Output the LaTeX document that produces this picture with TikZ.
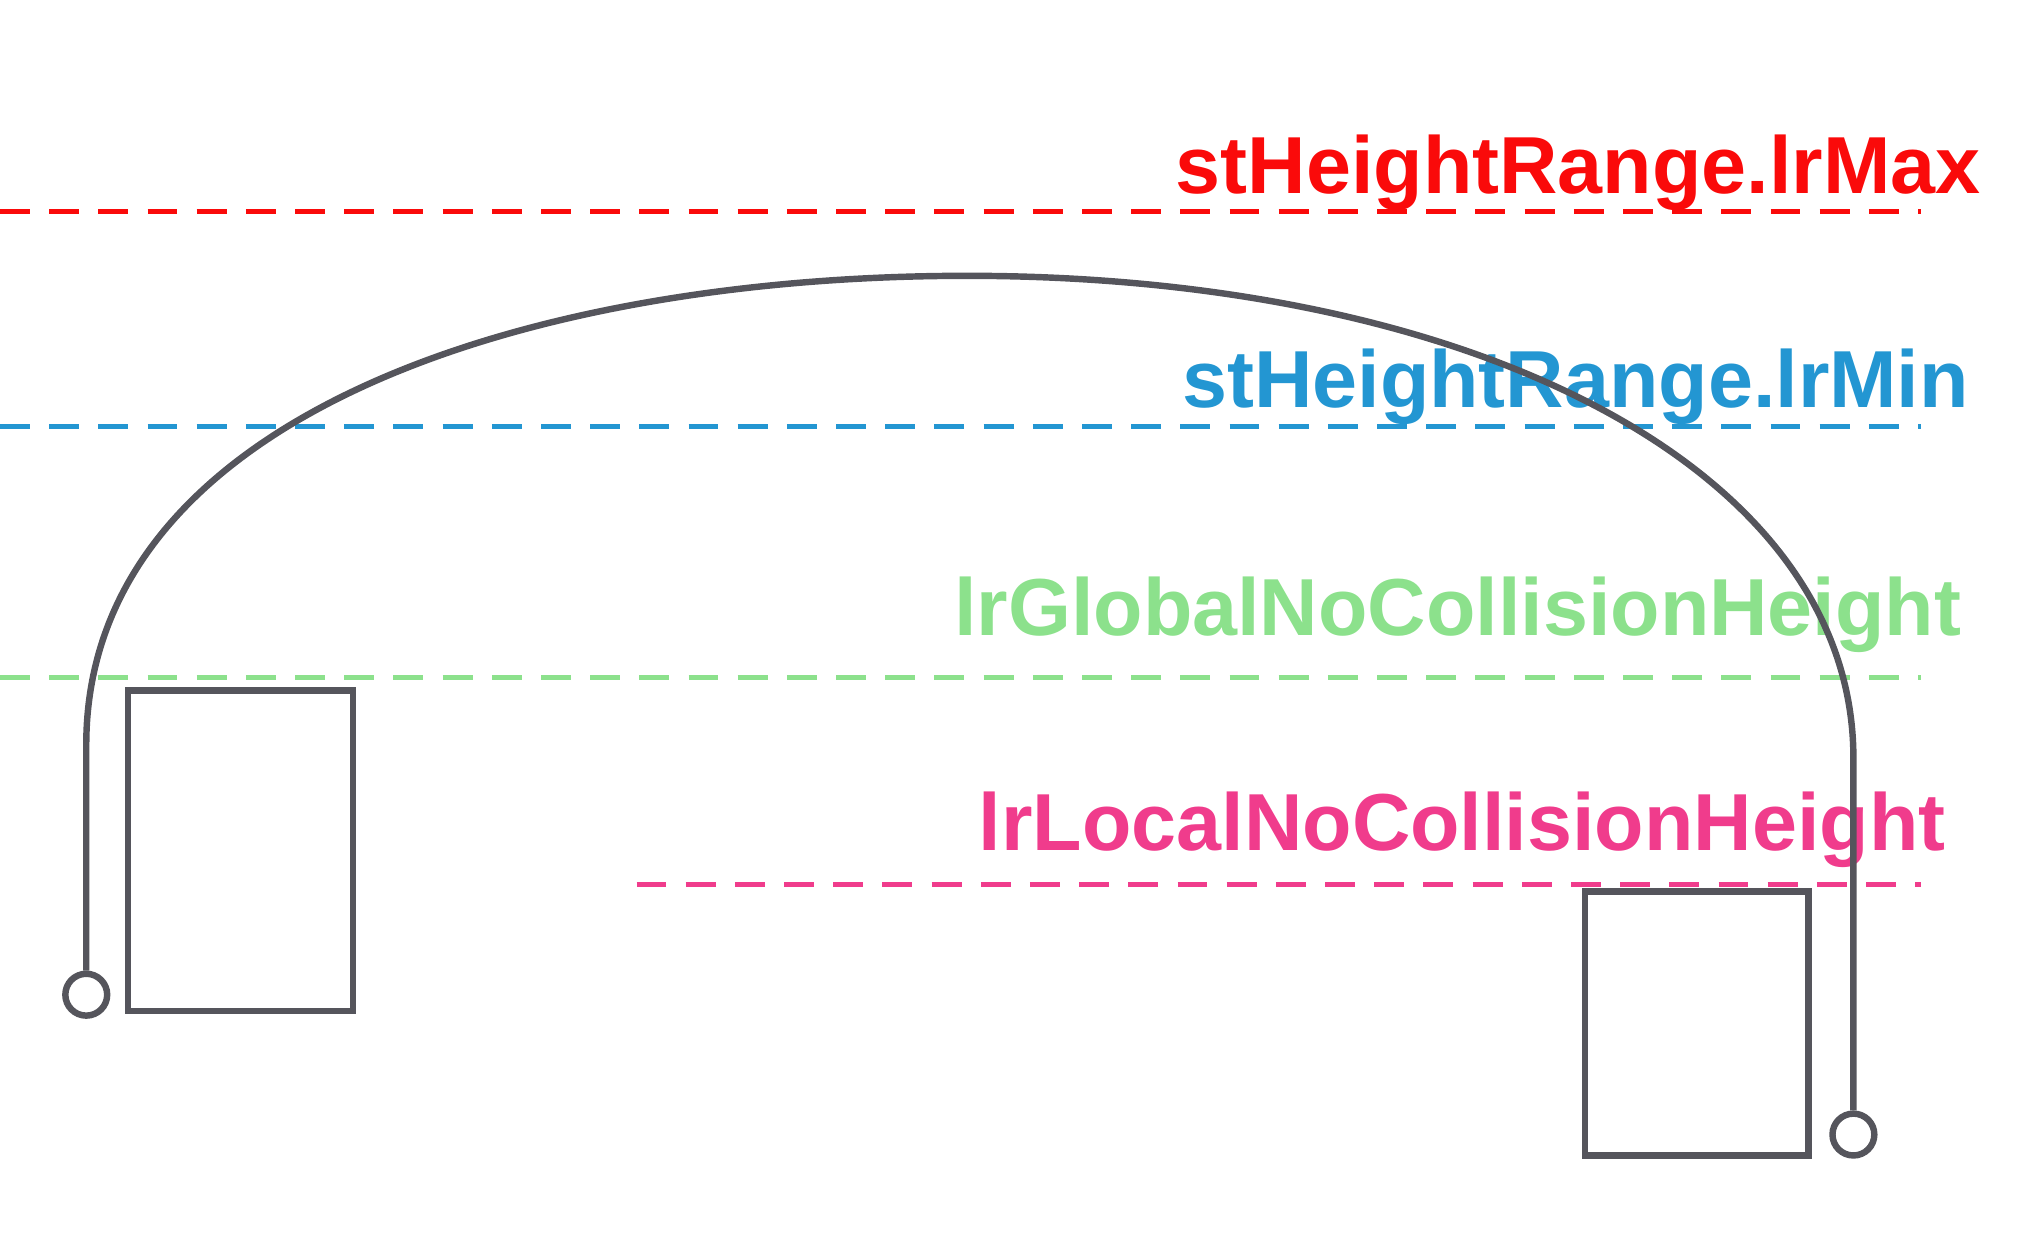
\documentclass[tikz,border=0pt]{standalone}
\usepackage{fontspec}
\setmainfont{Liberation Sans}
\begin{document}
\begin{tikzpicture}[x=0.01cm,y=-0.01cm,
  hline/.style={line width=1.1pt,dash pattern=on 6.5pt off 4.2pt},
  lbl/.style={anchor=base east,inner sep=0pt,font=\fontsize{17.6}{20}\selectfont\bfseries}]
\definecolor{cRed}{RGB}{250,10,10}
\definecolor{cBlue}{RGB}{35,150,210}
\definecolor{cGreen}{RGB}{140,225,140}
\definecolor{cPink}{RGB}{240,60,140}
\definecolor{cGray}{RGB}{85,85,92}
\useasboundingbox (0,0) rectangle (1560,950);
\coordinate (r1) at (0,162); \coordinate (r2) at (1470,162);
\coordinate (b1) at (0,326); \coordinate (b2) at (1470,326);
\coordinate (g1) at (0,518); \coordinate (g2) at (1470,518);
\coordinate (p1) at (487,677); \coordinate (p2) at (1470,677);
\draw[hline,cRed] (r1) -- (r2);
\draw[hline,cBlue] (b1) -- (b2);
\draw[hline,cGreen] (g1) -- (g2);
\draw[hline,cPink] (p1) -- (p2);
\node[lbl,text=cRed] (tmax) at (1516,148) {stHeightRange.lrMax};
\node[lbl,text=cBlue] (tmin) at (1507,312) {stHeightRange.lrMin};
\node[lbl,text=cGreen] (tglob) at (1501,486) {lrGlobalNoCollisionHeight};
\node[lbl,text=cPink] (tloc) at (1489,651) {lrLocalNoCollisionHeight};
\tikzset{gl/.style={draw=cGray,line width=1.4pt}}
\node[gl,minimum width=1.72cm,minimum height=2.45cm,inner sep=0pt] (boxL) at (184,651) {};
\node[gl,minimum width=1.71cm,minimum height=2.02cm,inner sep=0pt] (boxR) at (1298,783) {};
\node[gl,circle,minimum size=0.32cm,inner sep=0pt] (cL) at (66,761) {};
\node[gl,circle,minimum size=0.32cm,inner sep=0pt] (cR) at (1418,868) {};
\coordinate (top) at (740,211);
\draw[gl] (cL.north) -- (66,570) .. controls (66,320) and (400,211) .. (top)
  .. controls (1130,211) and (1418,360) .. (1418,580) -- (cR.north);
\end{tikzpicture}
\end{document}
